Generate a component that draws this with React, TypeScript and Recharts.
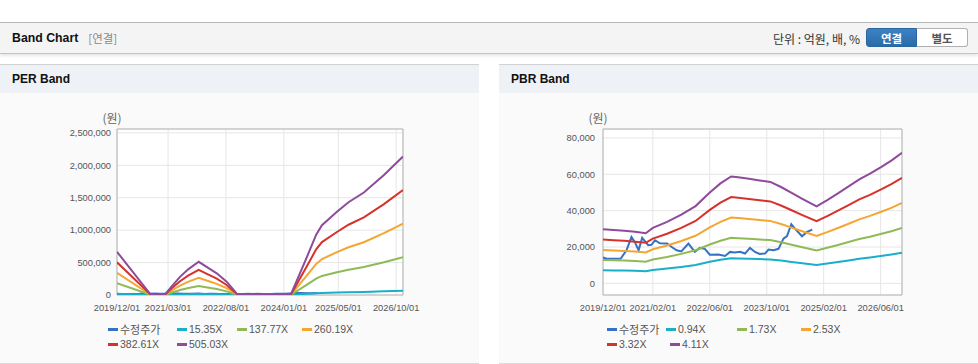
import React from 'react';
import { LineChart, Line, XAxis, YAxis, CartesianGrid, ReferenceArea, Legend } from 'recharts';

// ---------- PER band data (month offset from 2019/12) ----------
const perMonths = [0, 10, 14, 16, 18.5, 21, 24, 27, 29.3, 32.2, 35.5, 51, 55.8, 58.5, 60.2, 64.6, 68, 72.5, 78.4, 84];
const per1535 = [20200, 0, 0, 3950, 8510, 12160, 15560, 12460, 10150, 6230, 0, 0, 17900, 28270, 32740, 39000, 43470, 48030, 56240, 64900];
const per13777 = [181700, 0, 0, 35500, 76400, 109100, 139700, 111800, 91100, 55900, 0, 0, 160700, 253700, 293800, 350000, 390100, 431000, 504700, 582400];
const per26019 = [343100, 0, 0, 67000, 144300, 206100, 263800, 211200, 172100, 105600, 0, 0, 303500, 479100, 554900, 661000, 736700, 814000, 953100, 1099900];
const per38261 = [504600, 0, 0, 98500, 212100, 303000, 387900, 310600, 253000, 155300, 0, 0, 446200, 704600, 815900, 972000, 1083400, 1197000, 1401600, 1617500];
const per50503 = [666000, 0, 0, 130000, 280000, 400000, 512000, 410000, 334000, 205000, 0, 0, 589000, 930000, 1077000, 1283000, 1430000, 1580000, 1850000, 2135000];

// ---------- PBR band data ----------
const pbrMonths = [0, 3, 6, 9, 12, 14, 18, 22, 26, 30, 33, 36, 38, 41, 44, 47, 50, 53, 56, 60, 63, 66, 69, 72, 75, 78, 81, 84];
const pbr094 = [7220, 7120, 7030, 6900, 6710, 7380, 8130, 9040, 10120, 11840, 12980, 13850, 13730, 13550, 13340, 13160, 12520, 11790, 11030, 10070, 10870, 11720, 12590, 13480, 14190, 14990, 15840, 16820];
const pbr173 = [12840, 12670, 12510, 12250, 11920, 13140, 14530, 16210, 18190, 21350, 23450, 25050, 24840, 24500, 24120, 23790, 22610, 21260, 19870, 18100, 19580, 21130, 22730, 24380, 25680, 27150, 28710, 30520];
const pbr253 = [18340, 18100, 17850, 17480, 16990, 18780, 20810, 23270, 26160, 30780, 33860, 36200, 35890, 35400, 34840, 34350, 32630, 30660, 28630, 26040, 28190, 30470, 32810, 35210, 37120, 39280, 41550, 44200];
const pbr332 = [24070, 23750, 23430, 22940, 22300, 24640, 27300, 30530, 34330, 40390, 44430, 47500, 47100, 46450, 45720, 45080, 42810, 40230, 37560, 34170, 37000, 39990, 43060, 46210, 48710, 51540, 54530, 58000];
const pbr411 = [29800, 29400, 29000, 28400, 27600, 30500, 33800, 37800, 42500, 50000, 55000, 58800, 58300, 57500, 56600, 55800, 53000, 49800, 46500, 42300, 45800, 49500, 53300, 57200, 60300, 63800, 67500, 71800];

// ---------- adjusted price (수정주가) ----------
const priceMonths = [0, 1, 5, 6.6, 8, 9, 10, 11, 12.7, 13.6, 14.6, 16, 18, 19.3, 20.7, 22, 24, 25.8, 27.2, 28.6, 30, 32.4, 34.3, 35.7, 37, 38.5, 39.9, 41.3, 42.7, 44, 45.5, 46.5, 47.9, 49.3, 50.7, 51.7, 52.9, 54, 55.9, 57.3, 58.8];
const priceValues = [14200, 13600, 13700, 18200, 25500, 22500, 18200, 25000, 21000, 21200, 23700, 22000, 21900, 20000, 18200, 17600, 21900, 17300, 19500, 19000, 15800, 15900, 15100, 17300, 17000, 17400, 16400, 19500, 17300, 16200, 16400, 18600, 18200, 19000, 24600, 26000, 32500, 30000, 25900, 28300, 29600];

// ---------- axes / labels ----------
const perXTicks = [0, 15, 32, 49, 65, 82];
const perXLabels = ['2019/12/01', '2021/03/01', '2022/08/01', '2024/01/01', '2025/05/01', '2026/10/01'];
const pbrXTicks = [0, 14, 30, 46, 62, 78];
const pbrXLabels = ['2019/12/01', '2021/02/01', '2022/06/01', '2023/10/01', '2025/02/01', '2026/06/01'];
const perYTicks = [0, 500000, 1000000, 1500000, 2000000, 2500000];
const pbrYTicks = [0, 20000, 40000, 60000, 80000];
const perNames = ['수정주가', '15.35X', '137.77X', '260.19X', '382.61X', '505.03X'];
const pbrNames = ['수정주가', '0.94X', '1.73X', '2.53X', '3.32X', '4.11X'];
const seriesColors = ['#3571c4', '#17b0c8', '#8fba56', '#f5a632', '#d6312b', '#8e4a9b'];

const perRows = perMonths.map((m, i) => ({ m, s1: per1535[i], s2: per13777[i], s3: per26019[i], s4: per38261[i], s5: per50503[i] }));
const pbrRows = pbrMonths.map((m, i) => ({ m, s1: pbr094[i], s2: pbr173[i], s3: pbr253[i], s4: pbr332[i], s5: pbr411[i] }));
const priceRows = priceMonths.map((m, i) => ({ m, price: priceValues[i] }));

const FONT = '"Liberation Sans", Arial, "Noto Sans CJK KR", sans-serif';
const KFONT = '"Noto Sans CJK KR", "Liberation Sans", sans-serif';

type PanelProps = {
  title: string;
  left: number;
  rows: any[];
  names: string[];
  xTicks: number[];
  xLabels: string[];
  yTicks: number[];
  yDomain: [number, number];
  yWidth: number;
  yTickMargin: number;
  legendPos: [number, number][];
};

function Panel(p: PanelProps) {
  const legendContent = () => (
    <div style={{ position: 'relative', width: '100%', height: 36 }}>
      {p.names.map((n, i) => (
        <div key={n} style={{ position: 'absolute', left: p.legendPos[i][0], top: p.legendPos[i][1], height: 14, display: 'flex', alignItems: 'center', whiteSpace: 'nowrap' }}>
          <span style={{ display: 'inline-block', width: 10, height: 3, background: seriesColors[i], marginRight: 2 }} />
          <span style={{ fontFamily: i === 0 ? KFONT : FONT, fontSize: i === 0 ? 11 : 10.5, color: '#555', lineHeight: '14px' }}>{n}</span>
        </div>
      ))}
    </div>
  );
  const yLabel = (props: any) => {
    const vb = props.viewBox || {};
    return (
      <text x={vb.x + vb.width - 5} y={vb.y - 12} textAnchor="middle" dominantBaseline="central" fill="#666" fontSize={12} fontFamily={KFONT}>(원)</text>
    );
  };
  return (
    <div style={{ position: 'absolute', left: p.left, top: 64, width: 479, height: 298, borderTop: '1px solid #d2d2d2', borderBottom: '1px solid #dcdcdc', background: '#fafafa' }}>
      <div style={{ height: 28, background: '#eef2f6', display: 'flex', alignItems: 'center', paddingLeft: 12, fontFamily: FONT, fontWeight: 'bold', fontSize: 12, color: '#111' }}>{p.title}</div>
      <div style={{ position: 'absolute', left: 0, top: 28 }}>
        <LineChart width={479} height={269} data={p.rows} margin={{ top: 36, right: 76, bottom: 8, left: 0 }}>
          <CartesianGrid stroke="#e6e6e6" fill="#ffffff" />
          <XAxis
            type="number"
            dataKey="m"
            domain={[0, 84]}
            ticks={p.xTicks}
            allowDataOverflow
            height={23}
            axisLine={false}
            tickLine={false}
            tickSize={0}
            tickMargin={9}
            interval={0}
            tick={{ fill: '#555', fontSize: 9.3, fontFamily: FONT }}
            tickFormatter={(v: number) => p.xLabels[p.xTicks.indexOf(v)] ?? ''}
          />
          <YAxis
            type="number"
            domain={p.yDomain}
            ticks={p.yTicks}
            allowDataOverflow
            width={p.yWidth}
            axisLine={false}
            tickLine={false}
            tickSize={0}
            tickMargin={p.yTickMargin}
            interval={0}
            tick={{ fill: '#555', fontSize: 9.3, fontFamily: FONT }}
            tickFormatter={(v: number) => v.toLocaleString('en-US')}
            label={{ content: yLabel }}
          />
          <Line data={priceRows} dataKey="price" name={p.names[0]} stroke={seriesColors[0]} strokeWidth={2} dot={false} isAnimationActive={false} type="linear" />
          <Line dataKey="s1" name={p.names[1]} stroke={seriesColors[1]} strokeWidth={2} dot={false} isAnimationActive={false} type="linear" />
          <Line dataKey="s2" name={p.names[2]} stroke={seriesColors[2]} strokeWidth={2} dot={false} isAnimationActive={false} type="linear" />
          <Line dataKey="s3" name={p.names[3]} stroke={seriesColors[3]} strokeWidth={2} dot={false} isAnimationActive={false} type="linear" />
          <Line dataKey="s4" name={p.names[4]} stroke={seriesColors[4]} strokeWidth={2} dot={false} isAnimationActive={false} type="linear" />
          <Line dataKey="s5" name={p.names[5]} stroke={seriesColors[5]} strokeWidth={2} dot={false} isAnimationActive={false} type="linear" />
          <ReferenceArea x1={0} x2={84} y1={p.yDomain[0]} y2={p.yDomain[1]} fill="none" stroke="#b4b4b4" strokeWidth={1} ifOverflow="visible" />
          <Legend verticalAlign="bottom" content={legendContent} />
        </LineChart>
      </div>
    </div>
  );
}

export default function App() {
  return (
    <div style={{ position: 'absolute', left: 0, top: 0, width: 978, height: 364, overflow: 'hidden', background: '#fff', fontFamily: FONT }}>
      <div style={{ position: 'absolute', left: 0, top: 22, width: 978, height: 30, borderTop: '1px solid #b8b8b8', borderBottom: '1px solid #c4c4c4', background: '#f4f4f4', boxShadow: '0 2px 3px rgba(0,0,0,0.10)' }}>
        <div style={{ position: 'absolute', left: 12, top: 0, height: 30, display: 'flex', alignItems: 'center' }}>
          <span style={{ fontFamily: FONT, fontWeight: 'bold', fontSize: 12.3, color: '#111' }}>Band Chart</span>
          <span style={{ fontFamily: KFONT, fontSize: 11.5, color: '#888', marginLeft: 10 }}>[연결]</span>
        </div>
        <div style={{ position: 'absolute', right: 118, top: 0, height: 30, display: 'flex', alignItems: 'center', fontFamily: KFONT, fontSize: 12, color: '#333' }}>단위 : 억원, 배, %</div>
        <div style={{ position: 'absolute', left: 866, top: 5, width: 51, height: 19, boxSizing: 'border-box', background: 'linear-gradient(#3d82c4, #2a6aa9)', border: '1px solid #2b65a0', borderRadius: '3px 0 0 3px', color: '#fff', fontFamily: KFONT, fontWeight: 'bold', fontSize: 11.5, display: 'flex', alignItems: 'center', justifyContent: 'center' }}>연결</div>
        <div style={{ position: 'absolute', left: 917, top: 5, width: 51, height: 19, boxSizing: 'border-box', background: '#fff', border: '1px solid #b0b0b0', borderLeft: 'none', borderRadius: '0 3px 3px 0', color: '#555', fontFamily: KFONT, fontWeight: 'bold', fontSize: 11.5, display: 'flex', alignItems: 'center', justifyContent: 'center' }}>별도</div>
      </div>
      <Panel
        title="PER Band"
        left={0}
        rows={perRows}
        names={perNames}
        xTicks={perXTicks}
        xLabels={perXLabels}
        yTicks={perYTicks}
        yDomain={[0, 2560000]}
        yWidth={117}
        yTickMargin={6}
        legendPos={[[108, 4], [177, 4], [237, 4], [302, 4], [108, 19], [177, 19]]}
      />
      <Panel
        title="PBR Band"
        left={499}
        rows={pbrRows}
        names={pbrNames}
        xTicks={pbrXTicks}
        xLabels={pbrXLabels}
        yTicks={pbrYTicks}
        yDomain={[-6400, 84900]}
        yWidth={104}
        yTickMargin={8}
        legendPos={[[108, 4], [167, 4], [238, 4], [302, 4], [108, 19], [171, 19]]}
      />
    </div>
  );
}
